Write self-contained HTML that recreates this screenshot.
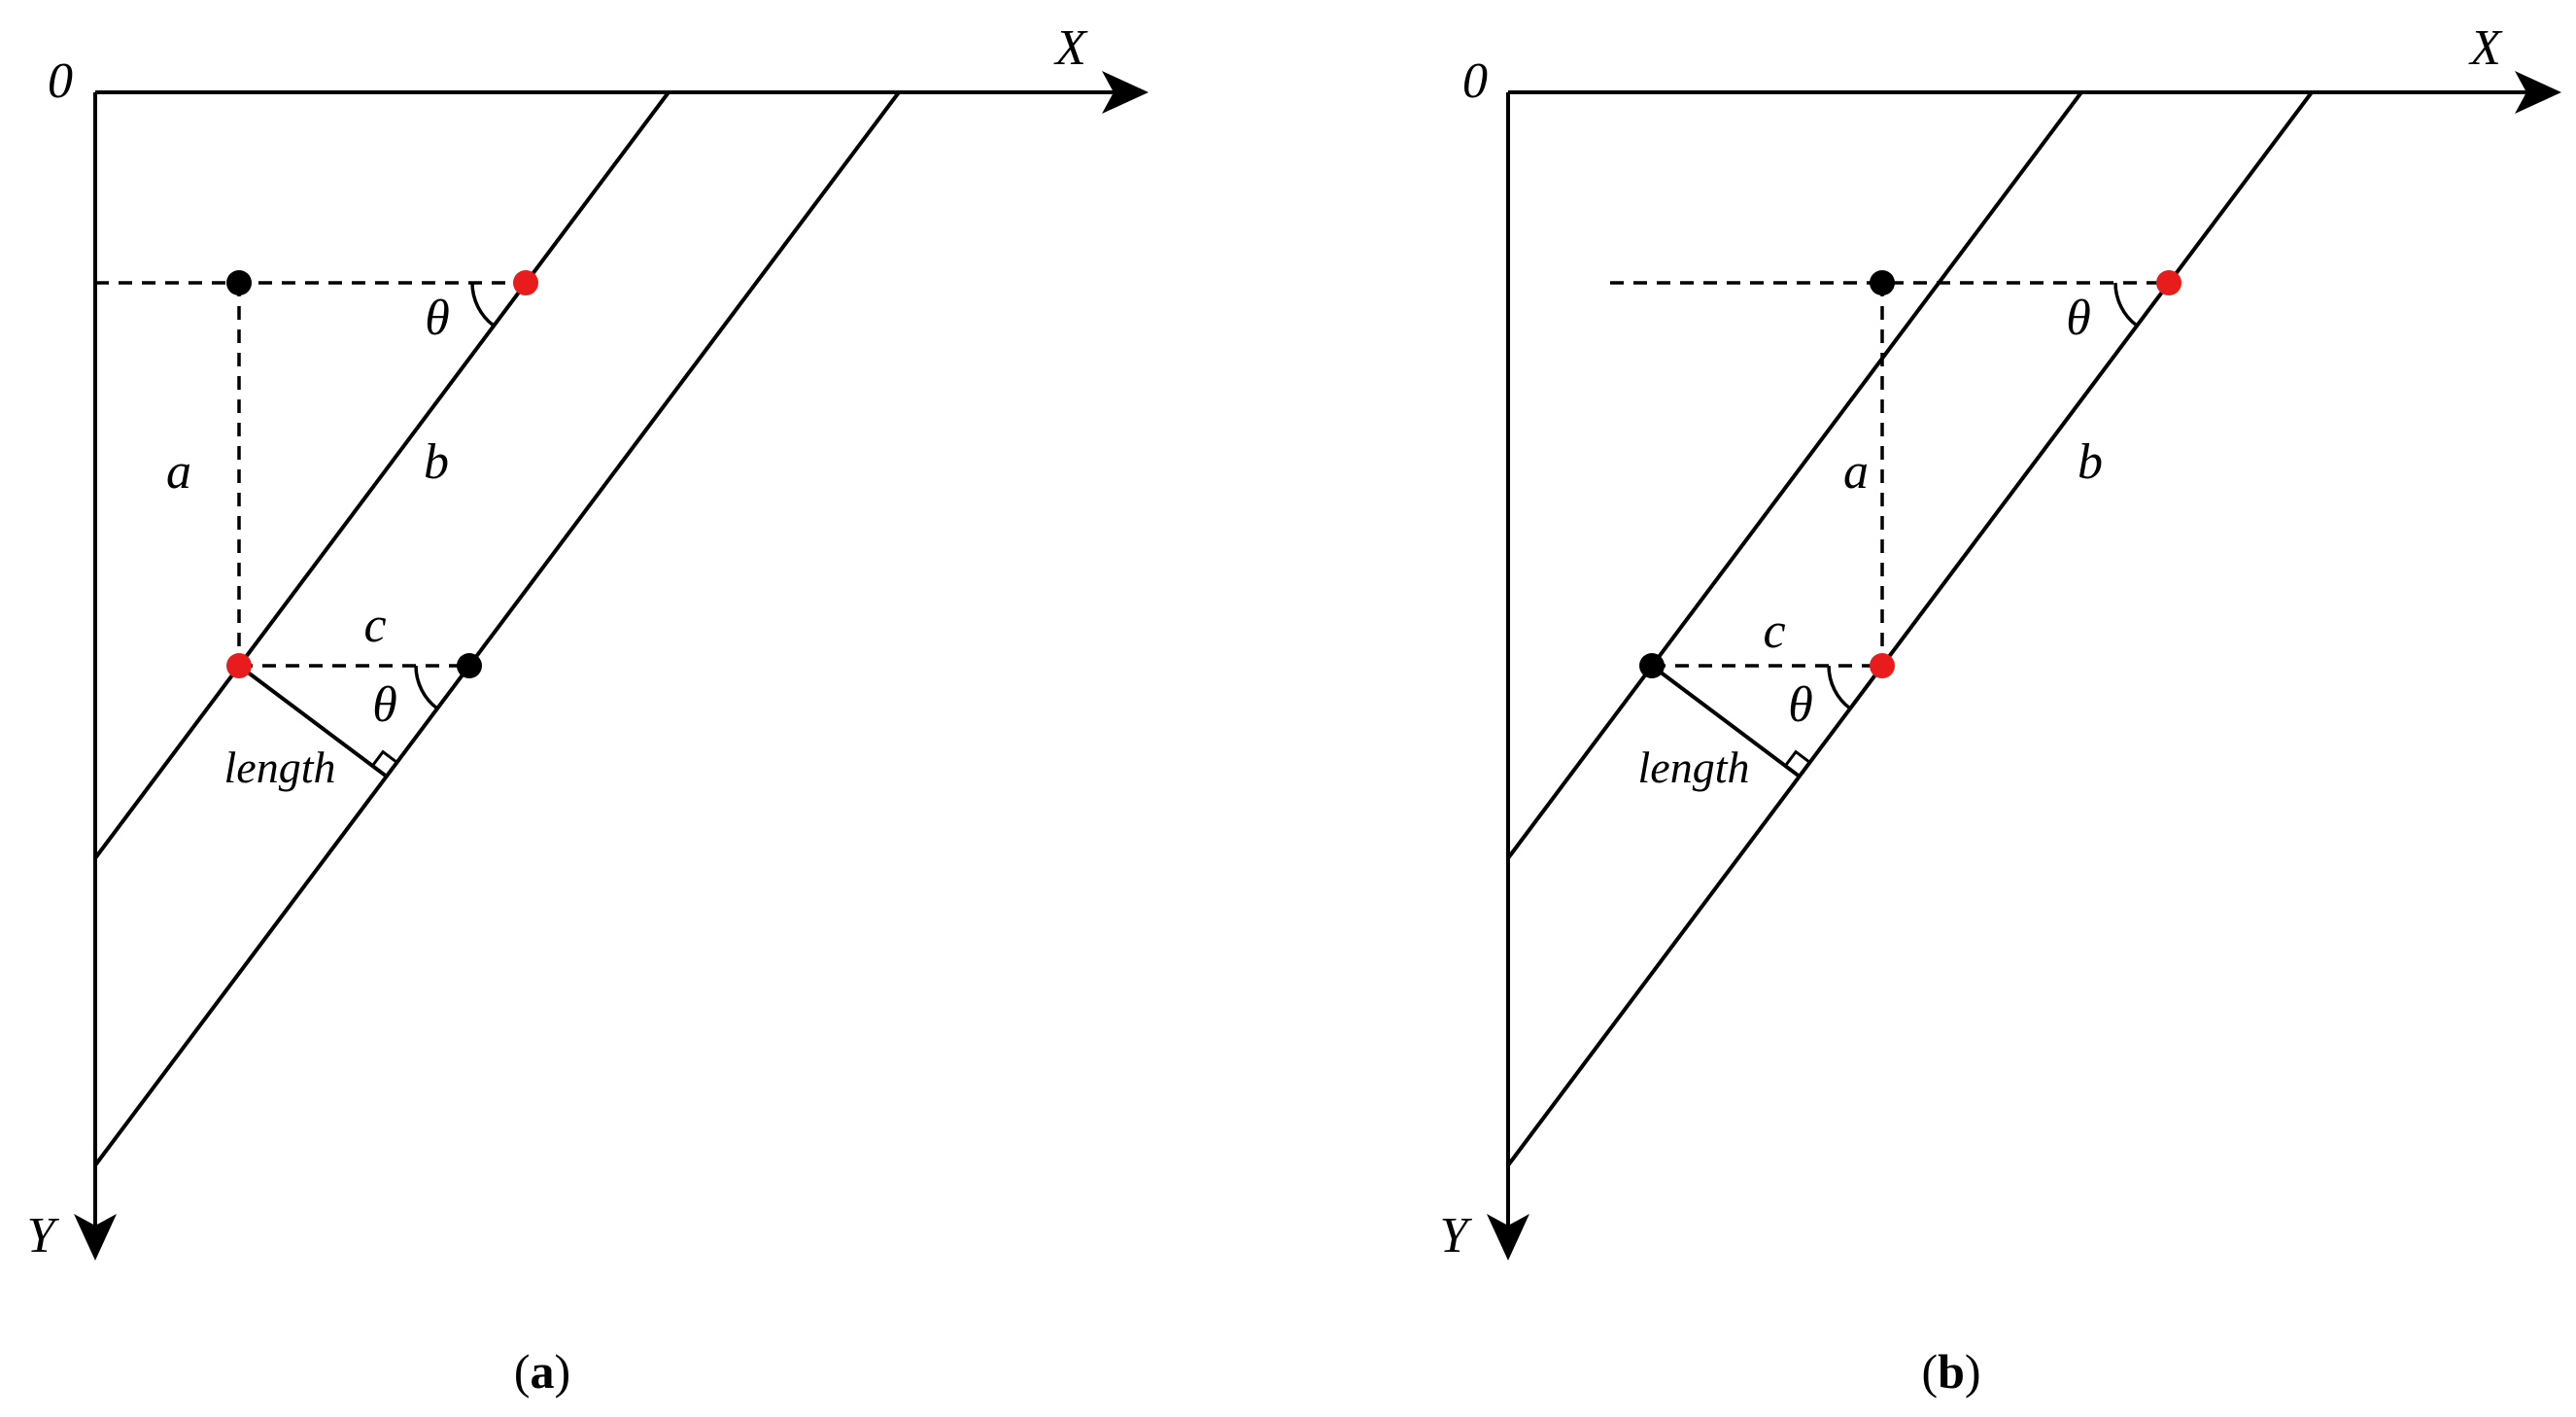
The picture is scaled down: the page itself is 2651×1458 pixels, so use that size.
<!DOCTYPE html>
<html><head><meta charset="utf-8"><style>
html,body{margin:0;padding:0;background:#fff;}
svg{display:block;}
text{font-family:"Liberation Serif",serif;fill:#000;}
.it{font-style:italic;}
</style></head><body>
<svg width="2651" height="1458" viewBox="0 0 2651 1458" xmlns="http://www.w3.org/2000/svg">
<defs>
<g id="axes">
 <line x1="98" y1="95" x2="1160" y2="95" stroke="#000" stroke-width="4"/>
 <path d="M1182,95 L1134,73 L1146,95 L1134,117 Z" fill="#000"/>
 <line x1="98" y1="95" x2="98" y2="1275" stroke="#000" stroke-width="4"/>
 <path d="M98,1297 L76,1249 L98,1261 L120,1249 Z" fill="#000"/>
 <line x1="688" y1="95" x2="98" y2="883" stroke="#000" stroke-width="4"/>
 <line x1="925" y1="95" x2="98" y2="1199" stroke="#000" stroke-width="4"/>
</g>
</defs>

<!-- Panel a -->
<use href="#axes"/>
<line x1="98" y1="291" x2="541" y2="291" stroke="#000" stroke-width="3.5" stroke-dasharray="14,10"/>
<line x1="246" y1="291" x2="246" y2="685" stroke="#000" stroke-width="3.5" stroke-dasharray="14,10"/>
<line x1="246" y1="685" x2="483" y2="685" stroke="#000" stroke-width="3.5" stroke-dasharray="14,10"/>
<line x1="246" y1="685" x2="397.7" y2="798.8" stroke="#000" stroke-width="4"/>
<path d="M408.5,784.4 L394.1,773.6 L383.3,788" fill="none" stroke="#000" stroke-width="3"/>
<path d="M486,291 A55,55 0 0 0 508,335" fill="none" stroke="#000" stroke-width="3.5"/>
<path d="M428,685 A55,55 0 0 0 450,729" fill="none" stroke="#000" stroke-width="3.5"/>
<circle cx="246" cy="291" r="13" fill="#000"/>
<circle cx="541" cy="291" r="13" fill="#e81c1c"/>
<circle cx="246" cy="685" r="13" fill="#e81c1c"/>
<circle cx="483" cy="685" r="13" fill="#000"/>
<g class="it" font-size="52" text-anchor="middle">
<text x="62" y="100">0</text>
<text x="1102" y="66">X</text>
<text x="42" y="1288">Y</text>
<text x="184" y="502">a</text>
<text x="449" y="492">b</text>
<text x="386" y="660">c</text>
<text x="450" y="344">θ</text>
<text x="396" y="742">θ</text>
<text x="288" y="805" font-size="46">length</text>
</g>
<text x="558" y="1428" font-size="50" style="font-style:normal" text-anchor="middle">(<tspan font-weight="bold">a</tspan>)</text>

<!-- Panel b -->
<use href="#axes" x="1454"/>
<line x1="1657" y1="291" x2="2232" y2="291" stroke="#000" stroke-width="3.5" stroke-dasharray="14,10"/>
<line x1="1937" y1="291" x2="1937" y2="685" stroke="#000" stroke-width="3.5" stroke-dasharray="14,10"/>
<line x1="1700" y1="685" x2="1937" y2="685" stroke="#000" stroke-width="3.5" stroke-dasharray="14,10"/>
<line x1="1700" y1="685" x2="1851.7" y2="798.8" stroke="#000" stroke-width="4"/>
<path d="M1862.5,784.4 L1848.1,773.6 L1837.3,788" fill="none" stroke="#000" stroke-width="3"/>
<path d="M2177,291 A55,55 0 0 0 2199,335" fill="none" stroke="#000" stroke-width="3.5"/>
<path d="M1882,685 A55,55 0 0 0 1904,729" fill="none" stroke="#000" stroke-width="3.5"/>
<circle cx="1937" cy="291" r="13" fill="#000"/>
<circle cx="2232" cy="291" r="13" fill="#e81c1c"/>
<circle cx="1700" cy="685" r="13" fill="#000"/>
<circle cx="1937" cy="685" r="13" fill="#e81c1c"/>
<g class="it" font-size="52" text-anchor="middle">
<text x="1518" y="100">0</text>
<text x="2558" y="66">X</text>
<text x="1496" y="1288">Y</text>
<text x="1910" y="502">a</text>
<text x="2151" y="492">b</text>
<text x="1826" y="666">c</text>
<text x="2139" y="344">θ</text>
<text x="1853" y="742">θ</text>
<text x="1743" y="805" font-size="46">length</text>
</g>
<text x="2008" y="1428" font-size="50" style="font-style:normal" text-anchor="middle">(<tspan font-weight="bold">b</tspan>)</text>
</svg>
</body></html>
